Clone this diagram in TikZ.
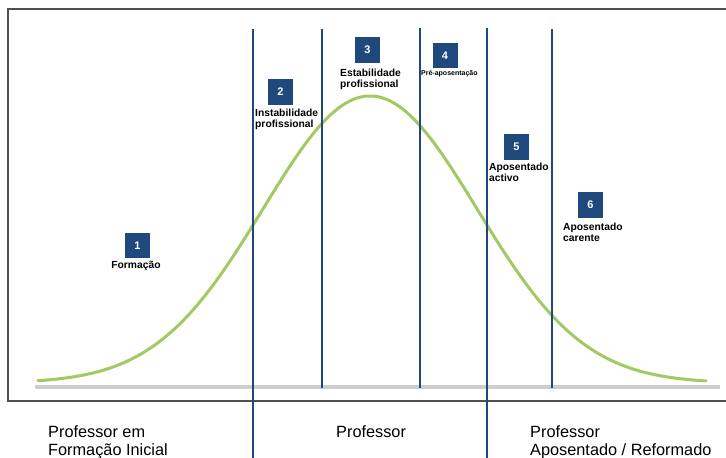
\documentclass[tikz,border=0pt]{standalone}
\usepackage{fontspec}
\setmainfont{Liberation Sans}
\definecolor{navy}{RGB}{31,73,125}
\definecolor{curvegreen}{RGB}{163,200,100}
\definecolor{basegray}{RGB}{205,205,205}
\definecolor{framegray}{RGB}{80,80,80}
\begin{document}
\begin{tikzpicture}[x=1pt,y=-1pt,
  numbox/.style={fill=navy,text=white,font=\bfseries\fontsize{11}{11}\selectfont,minimum width=25pt,minimum height=25.5pt,inner sep=0pt},
  lbl/.style={font=\bfseries\fontsize{10.3}{10.5}\selectfont,align=left,inner sep=0pt,anchor=north west},
  bottomtxt/.style={font=\fontsize{16.3}{18}\selectfont,align=left,inner sep=0pt,anchor=north west},
  divider/.style={draw=navy,line width=1.8pt}]
\useasboundingbox (0,0) rectangle (726,458);
% frame
\draw[framegray,line width=1.3pt] (726,9) -- (8,9) -- (8,401) -- (726,401);
% baseline
\draw[basegray,line width=4pt] (35,387) -- (720,387);
% bell curve
\draw[curvegreen,line width=3pt,line cap=round] plot[domain=38:706,samples=150,smooth] (\x,{383-287*exp(-0.5*((\x-370)/107)^2)});
% dividers
\coordinate (d1t) at (253,29); \coordinate (d1b) at (253,458);
\coordinate (d2t) at (322,29); \coordinate (d2b) at (322,388);
\coordinate (d3t) at (420,28); \coordinate (d3b) at (420,388);
\coordinate (d4t) at (487,28); \coordinate (d4b) at (487,458);
\coordinate (d5t) at (552,29); \coordinate (d5b) at (552,388);
\draw[divider] (d1t) -- (d1b);
\draw[divider] (d2t) -- (d2b);
\draw[divider] (d3t) -- (d3b);
\draw[divider] (d4t) -- (d4b);
\draw[divider] (d5t) -- (d5b);
% number boxes
\node[numbox] (b1) at (137.5,245.5) {1};
\node[numbox] (b2) at (280.5,92) {2};
\node[numbox] (b3) at (367.5,50) {3};
\node[numbox] (b4) at (445,55.5) {4};
\node[numbox] (b5) at (516.5,147) {5};
\node[numbox] (b6) at (590.5,205) {6};
% labels
\node[lbl,anchor=north] (l1) at (136,261) {Formação};
\node[lbl] (l2) at (255,109) {Instabilidade\\profissional};
\node[lbl] (l3) at (340,69) {Estabilidade\\profissional};
\node[lbl,font=\bfseries\fontsize{7}{8}\selectfont] (l4) at (421,70) {Pré-aposentação};
\node[lbl] (l5) at (489,163) {Aposentado\\activo};
\node[lbl] (l6) at (563,223) {Aposentado\\carente};
% bottom texts
\node[bottomtxt] (t1) at (48,425) {Professor em\\Formação Inicial};
\node[bottomtxt] (t2) at (336,425) {Professor};
\node[bottomtxt] (t3) at (530,425) {Professor\\Aposentado / Reformado};
\end{tikzpicture}
\end{document}
